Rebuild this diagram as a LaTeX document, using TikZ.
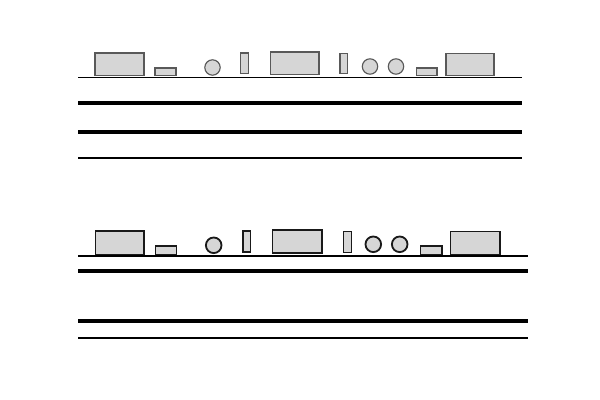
\documentclass[tikz,border=0pt]{standalone}
\usepackage{tikz}
\begin{document}
\begin{tikzpicture}[x=0.025cm,y=-0.025cm,
    thinline/.style={line width=1.35pt},
    thickline/.style={line width=2.9pt},
    partA/.style={draw=black!65,fill=black!16,line width=0.8pt},
    partB/.style={draw=black!90,fill=black!16,line width=1.3pt}]
    \fill[white] (0,0) rectangle (600,400);
    % upper row
    \foreach \xa/\ya/\xb/\yb in {95/53/144/75.5, 155/68/176/75.5, 240.5/53/248.5/73.5,
        270.5/52/319/74.5, 340/53.5/347.5/73.5, 416.5/68/437/75.5, 446/53.5/494/75.5}
        \draw[partA] (\xa,\ya) rectangle (\xb,\yb);
    \foreach \cx/\cy in {212.5/67.5, 370/66.5, 396/66.5}
        \draw[partA] (\cx,\cy) circle[radius=7.7];
    \draw[thinline] (78,77.5) -- (522,77.5);
    \draw[thickline] (78,103.3) -- (522,103.3);
    \draw[thickline] (78,132.3) -- (522,132.3);
    \draw[thinline] (78,158.3) -- (522,158.3);
    % lower row
    \foreach \xa/\ya/\xb/\yb in {95.5/231/144/255, 155.5/246/176.5/255, 243/231/250.5/252,
        272.5/230/322/253, 343.5/231.5/351.5/252.5, 420.5/246/442/255, 450.5/231.5/500/255}
        \draw[partB] (\xa,\ya) rectangle (\xb,\yb);
    \foreach \cx/\cy in {213.7/245.3, 373.3/244.3, 399.7/244.3}
        \draw[partB] (\cx,\cy) circle[radius=7.8];
    \draw[thinline] (78,256) -- (528,256);
    \draw[thickline] (78,271.3) -- (528,271.3);
    \draw[thickline] (78,320.7) -- (528,320.7);
    \draw[thinline] (78,338.3) -- (528,338.3);
\end{tikzpicture}
\end{document}
